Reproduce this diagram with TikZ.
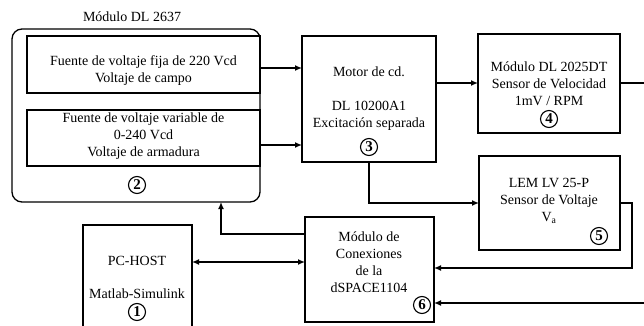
\documentclass[tikz,border=0pt]{standalone}
\usepackage{fontspec}
\setmainfont{Liberation Serif}
\usetikzlibrary{arrows.meta}
\begin{document}
\begin{tikzpicture}[x=1pt,y=-1pt,
  every node/.style={font=\fontsize{14}{17}\selectfont, inner sep=0pt, outer sep=0pt},
  blk/.style={draw, line width=1.3pt, minimum width=#1},
  txt/.style={align=center},
  num/.style={draw, circle, line width=1.1pt, minimum size=17pt, inner sep=0pt, font=\fontsize{15}{15}\selectfont\bfseries},
  conn/.style={line width=1.3pt},
  arr/.style={conn, -{Latex[length=7pt,width=6pt]}},
  darr/.style={conn, {Latex[length=7pt,width=6pt]}-{Latex[length=7pt,width=6pt]}}
]
\useasboundingbox (0,0) rectangle (644,326);

% Module DL 2637
\node[txt] (title) at (132,17) {Módulo DL 2637};
\node[draw, line width=1.3pt, rounded corners=10pt, minimum width=248pt, minimum height=173pt] (outer) at (136,115.5) {};
\node[blk=233pt, minimum height=57pt] (in1) at (143.5,64.5) {};
\node[blk=233pt, minimum height=56pt] (in2) at (143.5,138) {};
\node[txt] (t1) at (143.5,71) {Fuente de voltaje fija de 220 Vcd\\Voltaje de campo};
\node[txt] (t2) at (143.5,136.5) {Fuente de voltaje variable de\\0-240 Vcd\\Voltaje de armadura};
\node[num] (n2) at (137,185) {2};

% Motor
\node[blk=134pt, minimum height=126pt] (motor) at (369,99) {};
\node[txt] (t3) at (369,99) {Motor de cd.\\[17pt]DL 10200A1\\Excitación separada};
\node[num] (n3) at (369,147) {3};

% Box 4
\node[blk=142pt, minimum height=99pt] (b4) at (549,83.5) {};
\node[txt] (t4) at (549,84) {Módulo DL 2025DT\\Sensor de Velocidad\\1mV / RPM};
\node[num] (n4) at (549,119) {4};

% Box 5
\node[blk=141pt, minimum height=94pt] (b5) at (549.5,203) {};
\node[txt] (t5) at (549,201) {LEM LV 25-P\\Sensor de Voltaje\\V\textsubscript{a}};
\node[num] (n5) at (599,236) {5};

% Box 6
\node[blk=129pt, minimum height=105pt] (b6) at (369.5,269.5) {};
\node[txt] (t6) at (369,262) {Módulo de\\Conexiones\\de la\\dSPACE1104};
\node[num] (n6) at (422,305) {6};

% PC-HOST
\node[blk=109pt, minimum height=120pt] (pc) at (137.5,285) {};
\node[txt] (t1a) at (137,261) {PC-HOST};
\node[txt] (t1b) at (137,294) {Matlab-Simulink};
\node[num] (n1) at (137,312) {1};

% coordinates for free ends
\coordinate (e1) at (644,83);
\coordinate (e2) at (644,303);
\coordinate (k5) at (632,203);

% connectors
\draw[arr] (in1.east |- 0,68) -- (motor.west |- 0,68);
\draw[arr] (in2.east |- 0,145) -- (motor.west |- 0,145);
\draw[arr] (motor.east |- 0,83) -- (b4.west |- 0,83);
\draw[conn] (b4.east |- 0,83) -- (e1);
\draw[arr] (motor.south) -- (369,203) -- (b5.west |- 0,203);
\draw[arr] (b5.east |- k5) -- (k5) -- (632,268) -- (b6.east |- 0,268);
\draw[arr] (e2) -- (b6.east |- e2);
\draw[arr] (b6.west |- 0,234) -- (221,234) -- (outer.south -| 221,0);
\draw[darr] (pc.east |- 0,262) -- (b6.west |- 0,262);
\end{tikzpicture}
\end{document}
